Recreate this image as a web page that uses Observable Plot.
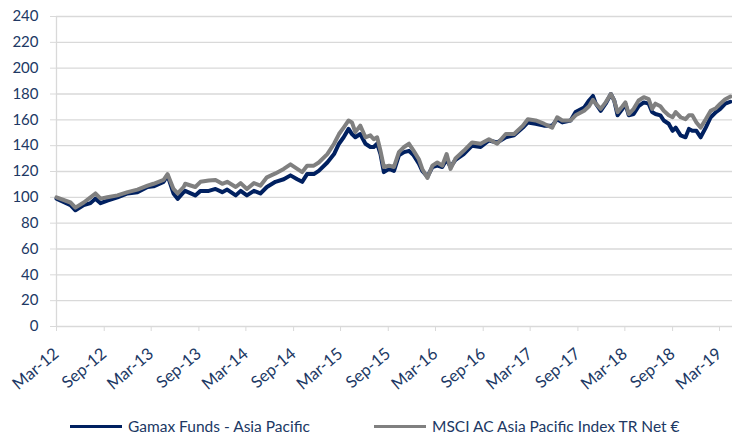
<!DOCTYPE html>
<html>
<head>
<meta charset="utf-8">
<script src="https://cdn.jsdelivr.net/npm/d3@7"></script>
<script src="https://cdn.jsdelivr.net/npm/@observablehq/plot@0.6"></script>
<style>
  body { margin: 0; background: #fff; }
  #wrap { width: 732px; font-family: Lato, "Open Sans", sans-serif; color: #203864; }
  #legend { position: relative; height: 37px; font-size: 15.5px; }
  .item { position: absolute; top: 17px; display: flex; align-items: center; white-space: nowrap; }
  .sw { display: inline-block; width: 52px; height: 3px; margin-right: 6px; }
</style>
</head>
<body>
<div id="wrap">
  <div id="chart"></div>
  <div id="legend"></div>
</div>
<script>
const dates = ["2012-03-01","2012-04-24","2012-05-13","2012-06-14","2012-07-10","2012-07-29","2012-08-18","2012-09-13","2012-10-22","2012-11-30",
"2013-01-07","2013-02-15","2013-03-10","2013-04-18","2013-05-03","2013-05-26","2013-06-11","2013-07-04","2013-07-10","2013-08-18",
"2013-09-07","2013-10-09","2013-11-04","2013-11-30","2013-12-19","2014-01-21","2014-02-09","2014-03-05","2014-04-01","2014-04-26",
"2014-05-21","2014-06-23","2014-07-25","2014-08-20","2014-09-15","2014-10-04","2014-10-23","2014-11-18","2014-12-07","2015-01-09",
"2015-02-04","2015-02-23","2015-03-13","2015-04-01","2015-04-14","2015-04-27","2015-05-16","2015-06-05","2015-06-24","2015-07-07",
"2015-07-20","2015-08-02","2015-08-15","2015-09-04","2015-09-23","2015-10-12","2015-11-01","2015-11-20","2015-12-08","2015-12-28",
"2016-01-10","2016-01-30","2016-02-18","2016-03-08","2016-03-27","2016-04-13","2016-04-28","2016-05-17","2016-06-18","2016-07-20",
"2016-08-22","2016-09-23","2016-10-25","2016-11-27","2016-12-29","2017-02-01","2017-02-20","2017-03-22","2017-04-23","2017-05-25",
"2017-06-13","2017-07-03","2017-08-04","2017-08-23","2017-09-25","2017-10-14","2017-10-29","2017-11-09","2017-11-28","2017-12-17",
"2018-01-06","2018-01-19","2018-02-01","2018-02-20","2018-03-03","2018-03-16","2018-04-04","2018-04-23","2018-05-13","2018-06-01",
"2018-06-14","2018-06-27","2018-07-16","2018-07-29","2018-08-17","2018-09-01","2018-09-13","2018-10-02","2018-10-21","2018-11-03",
"2018-11-16","2018-12-02","2018-12-18","2019-01-07","2019-01-26","2019-02-15","2019-03-04","2019-03-23","2019-04-12"];

const gamax = [99,94,90,94,95.5,99,95.5,97.5,100,103,
104,108,108.5,112,117,103,98.8,104,105,101.5,
105,105,106.5,104,106,101.5,105,101.5,105,103,
108,112,114,117,114,112,118,118,120.5,127,
133.5,141.5,146.5,153,149,146.5,149,141.5,139,139,
141.5,133.5,119.5,122,120.5,132.5,135,136,132.5,126,
120.5,116,123.5,124.5,123.5,129.5,123.5,129,133.5,140,
139,144,142.5,146.5,148,154,158,157,155.5,155.5,
160.5,158,159.5,166,169.5,175,178.5,172.5,167,172.5,
180,175,163.5,168.5,172.5,163.5,164.5,170.5,173.5,172.5,
166,164.5,163.5,159.5,157,151.5,154,148,146.5,153,
151.5,151.5,146.5,154,162,166,168.5,172.5,174];

const msci = [100,96,92,96,100,103,99,100,101.5,104,
106,109,110.5,113.5,118,106.5,103,108,110.5,108,
112,113,113.5,110.5,112,108,111,106.5,111,109,
115.5,118.5,122,125.5,122,119.5,124.5,124.5,127,133.5,
141.5,149,154,159.5,158,150.5,155.5,146.5,148,145,
146.5,136,123.5,124.5,123.5,135,139,141.5,136,129.5,
122,115,124.5,127,124.5,133.5,122,130,136,142.5,
141.5,145,141.5,149,149,155.5,160.5,159.5,157,154,
162,159.5,159.5,163.5,167,170.5,175.5,172.5,168.5,173.5,
180,175,166,170.5,173.5,164.5,168.5,175,177.5,176,
168.5,172.5,170.5,167,163.5,162,166,162,160.5,163.5,
163.5,158,154,160.5,167,169,172.5,176,178];

const yTicks = [0,20,40,60,80,100,120,140,160,180,200,220,240];
const tickDates = ["2012-03-01","2012-09-01","2013-03-01","2013-09-01","2014-03-01","2014-09-01","2015-03-01","2015-09-01",
"2016-03-01","2016-09-01","2017-03-01","2017-09-01","2018-03-01","2018-09-01","2019-03-01"];
const tickLabels = ["Mar-12","Sep-12","Mar-13","Sep-13","Mar-14","Sep-14","Mar-15","Sep-15",
"Mar-16","Sep-16","Mar-17","Sep-17","Mar-18","Sep-18","Mar-19"];
const seriesNames = ["Gamax Funds - Asia Pacific","MSCI AC Asia Pacific Index TR Net €"];
const seriesColors = ["#002060","#808080"];

const data = dates.map((d, i) => ({date: new Date(d), gamax: gamax[i], msci: msci[i]}));
const tickDateObjs = tickDates.map(d => new Date(d));
const labelMap = new Map(tickDateObjs.map((d, i) => [+d, tickLabels[i]]));
const xStart = new Date("2012-03-01"), xEnd = new Date("2019-04-20");
const grid = "#d9d9d9";

const chart = Plot.plot({
  width: 732,
  height: 400,
  marginLeft: 56,
  marginRight: 0,
  marginTop: 16,
  marginBottom: 74,
  style: {fontFamily: "Lato, 'Open Sans', sans-serif", fontSize: "15px", color: "#203864", background: "white", overflow: "visible"},
  x: {type: "utc", domain: [xStart, xEnd]},
  y: {domain: [0, 240]},
  marks: [
    Plot.gridY(yTicks, {stroke: grid, strokeOpacity: 1, strokeWidth: 1.3}),
    Plot.ruleX([xStart], {stroke: grid, strokeWidth: 1.3}),
    Plot.axisY(yTicks, {tickSize: 6, tickPadding: 12, stroke: grid, fill: "#203864", label: null}),
    Plot.axisX(tickDateObjs, {tickSize: 5, tickRotate: -40, tickPadding: 20, stroke: grid, fill: "#203864",
      fontSize: 16.5, tickFormat: d => labelMap.get(+d), label: null}),
    Plot.lineY(data, {x: "date", y: "gamax", stroke: seriesColors[0], strokeWidth: 4, strokeLinejoin: "round"}),
    Plot.lineY(data, {x: "date", y: "msci", stroke: seriesColors[1], strokeWidth: 4, strokeLinejoin: "round"})
  ]
});
document.getElementById("chart").appendChild(chart);

const legend = document.getElementById("legend");
const lefts = [70, 374];
seriesNames.forEach((name, i) => {
  const item = document.createElement("div");
  item.className = "item";
  item.style.left = lefts[i] + "px";
  item.innerHTML = `<span class="sw" style="background:${seriesColors[i]}"></span><span>${name}</span>`;
  legend.appendChild(item);
});
</script>
</body>
</html>
